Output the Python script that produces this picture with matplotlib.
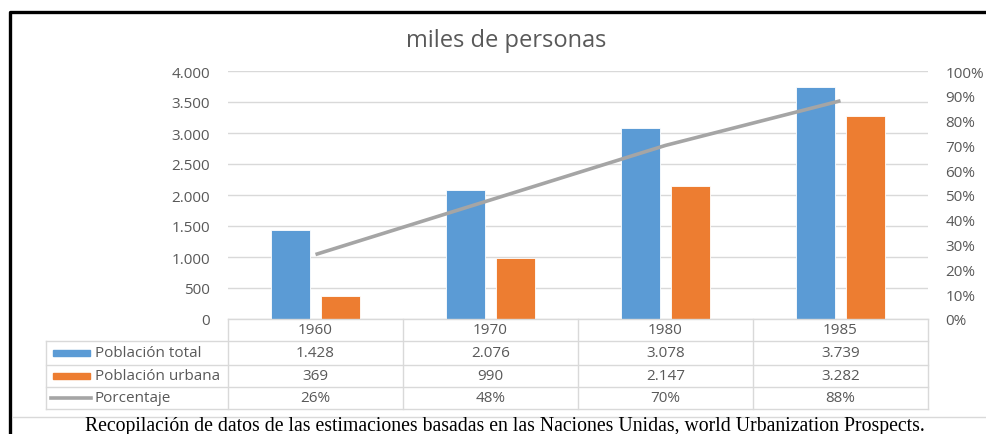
import matplotlib
matplotlib.use("Agg")
import matplotlib.pyplot as plt
from matplotlib.lines import Line2D
from matplotlib.patches import Rectangle
from matplotlib.ticker import FuncFormatter, MultipleLocator

# data
years = ["1960", "1970", "1980", "1985"]
poblacion_total = [1428, 2076, 3078, 3739]
poblacion_urbana = [369, 990, 2147, 3282]
porcentaje = [26, 48, 70, 88]
serie_nombres = ["Población total", "Población urbana", "Porcentaje"]
titulo = "miles de personas"
fuente = "Recopilación de datos de las estimaciones basadas en las Naciones Unidas, world Urbanization Prospects."

AZUL = "#5B9BD5"
NARANJA = "#ED7D31"
GRIS = "#A5A5A5"
TXT = "#595959"
REJILLA = "#D9D9D9"

W, H = 987, 435
plt.rcParams["font.family"] = ["Open Sans", "DejaVu Sans"]

fig = plt.figure(figsize=(W / 100, H / 100), dpi=100)


def fx(px):
    return px / W


def fy(py):
    return 1 - py / H


# plot area in pixels: x 228..928, y 72..320
ax = fig.add_axes([fx(228), fy(320), fx(700), (320 - 72) / H])
ax2 = ax.twinx()

x = list(range(len(years)))
bw = 0.225
ax.bar([i - 0.143 for i in x], poblacion_total, width=bw, color=AZUL, edgecolor="white", linewidth=0.6, zorder=3)
ax.bar([i + 0.143 for i in x], poblacion_urbana, width=bw, color=NARANJA, edgecolor="white", linewidth=0.6, zorder=3)
ax2.plot(x, [p / 100 for p in porcentaje], color=GRIS, linewidth=2.6, solid_capstyle="butt", zorder=4)

ax.set_xlim(-0.5, len(years) - 0.5)
ax.set_ylim(0, 4000)
ax2.set_ylim(0, 1)
ax.yaxis.set_major_locator(MultipleLocator(500))
ax2.yaxis.set_major_locator(MultipleLocator(0.1))
ax.yaxis.set_major_formatter(FuncFormatter(lambda v, p: f"{int(v):,}".replace(",", ".")))
ax2.yaxis.set_major_formatter(FuncFormatter(lambda v, p: f"{round(v * 100)}%"))
ax.grid(axis="y", color=REJILLA, linewidth=1, zorder=0)
ax.set_axisbelow(True)
ax.set_xticks([])
for a in (ax, ax2):
    for s in a.spines.values():
        s.set_visible(False)
    a.tick_params(axis="y", length=0, labelsize=11, labelcolor=TXT)
ax.tick_params(axis="y", pad=13)
ax2.tick_params(axis="y", pad=12.5)
for lab in ax2.get_yticklabels():
    lab.set_horizontalalignment("left")

# title
fig.text(fx(506), fy(41), titulo, ha="center", va="center", fontsize=17, color=TXT)

# data table under the plot
rows_y = [320, 342, 366, 388, 410]
col_x = [228, 403, 578, 753, 928]
legend_left = 46
lk = dict(color=REJILLA, linewidth=1, transform=fig.transFigure)
fig.add_artist(Line2D([fx(228), fx(928)], [fy(320), fy(320)], **lk))
for yy in rows_y[1:]:
    fig.add_artist(Line2D([fx(legend_left), fx(928)], [fy(yy), fy(yy)], **lk))
for xx in col_x:
    fig.add_artist(Line2D([fx(xx), fx(xx)], [fy(320), fy(410)], **lk))
fig.add_artist(Line2D([fx(legend_left), fx(legend_left)], [fy(342), fy(410)], **lk))

tabla = [years,
         [f"{v:,}".replace(",", ".") for v in poblacion_total],
         [f"{v:,}".replace(",", ".") for v in poblacion_urbana],
         [f"{v}%" for v in porcentaje]]
for r, fila in enumerate(tabla):
    yc = (rows_y[r] + rows_y[r + 1]) / 2
    for c, val in enumerate(fila):
        xc = (col_x[c] + col_x[c + 1]) / 2
        fig.text(fx(xc), fy(yc), val, ha="center", va="center", fontsize=11, color=TXT)

colores = [AZUL, NARANJA]
for r, nombre in enumerate(serie_nombres):
    yc = (rows_y[r + 1] + rows_y[r + 2]) / 2
    if r < 2:
        fig.add_artist(Rectangle((fx(53), fy(yc + 3)), fx(37), 6 / H, color=colores[r], transform=fig.transFigure))
    else:
        fig.add_artist(Line2D([fx(51), fx(91)], [fy(yc), fy(yc)], color=GRIS, linewidth=2.6, transform=fig.transFigure))
    fig.text(fx(95), fy(yc), nombre, ha="left", va="center", fontsize=11, color=TXT)

# chart frame and source line
fig.add_artist(Line2D([fx(10.5), fx(10.5), fx(W + 5)], [fy(H + 5), fy(12.5), fy(12.5)],
                      color="black", linewidth=2.4, transform=fig.transFigure))
fig.add_artist(Line2D([fx(13), fx(W)], [fy(418), fy(418)], color=REJILLA, linewidth=1, transform=fig.transFigure))
fig.text(fx(505), fy(427), fuente, ha="center", va="center", fontsize=14.2, color="black",
         family=["Liberation Serif", "DejaVu Serif"])

fig.savefig("out.png", dpi=100)
